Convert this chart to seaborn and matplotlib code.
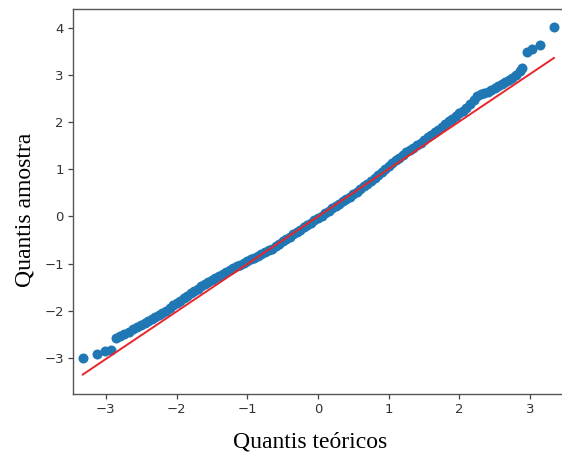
import matplotlib
matplotlib.use("Agg")
import matplotlib.pyplot as plt
import seaborn as sns
import pandas as pd

# Theoretical quantiles (x) and sample quantiles (y)
theoretical = [-3.33, -3.13, -3.01, -2.93, -2.86, -2.80, -2.74, -2.68, -2.62, -2.56,
               -2.50, -2.45, -2.40, -2.35, -2.30, -2.25, -2.20, -2.15, -2.10, -2.05,
               -2.00, -1.95, -1.90, -1.85, -1.80, -1.75, -1.70, -1.65, -1.60, -1.55,
               -1.50, -1.45, -1.40, -1.35, -1.30, -1.25, -1.20, -1.15, -1.10, -1.05,
               -1.00, -0.95, -0.90, -0.85, -0.80, -0.75, -0.70, -0.65, -0.60, -0.55,
               -0.50, -0.45, -0.40, -0.35, -0.30, -0.25, -0.20, -0.15, -0.10, -0.05,
               0.00, 0.05, 0.10, 0.15, 0.20, 0.25, 0.30, 0.35, 0.40, 0.45,
               0.50, 0.55, 0.60, 0.65, 0.70, 0.75, 0.80, 0.85, 0.90, 0.95,
               1.00, 1.05, 1.10, 1.15, 1.20, 1.25, 1.30, 1.35, 1.40, 1.45,
               1.50, 1.55, 1.60, 1.65, 1.70, 1.75, 1.80, 1.85, 1.90, 1.95,
               2.00, 2.05, 2.10, 2.15, 2.20, 2.25, 2.30, 2.35, 2.40, 2.45,
               2.50, 2.55, 2.60, 2.65, 2.70, 2.75, 2.80, 2.85, 2.88, 2.95,
               3.02, 3.14, 3.34]
sample = [-3.00, -2.91, -2.86, -2.83, -2.58, -2.53, -2.49, -2.46, -2.40, -2.35,
          -2.31, -2.27, -2.22, -2.17, -2.13, -2.09, -2.06, -2.01, -1.94, -1.88,
          -1.84, -1.79, -1.74, -1.69, -1.63, -1.58, -1.53, -1.48, -1.43, -1.39,
          -1.35, -1.31, -1.27, -1.22, -1.18, -1.14, -1.10, -1.06, -1.02, -0.99,
          -0.95, -0.91, -0.88, -0.84, -0.80, -0.76, -0.72, -0.68, -0.63, -0.58,
          -0.53, -0.48, -0.43, -0.38, -0.33, -0.28, -0.23, -0.18, -0.13, -0.08,
          -0.03, 0.02, 0.07, 0.12, 0.17, 0.22, 0.27, 0.32, 0.37, 0.42,
          0.48, 0.53, 0.59, 0.64, 0.70, 0.76, 0.82, 0.88, 0.95, 1.01,
          1.07, 1.13, 1.19, 1.25, 1.30, 1.36, 1.41, 1.46, 1.52, 1.57,
          1.63, 1.68, 1.73, 1.79, 1.84, 1.90, 1.96, 2.02, 2.08, 2.13,
          2.19, 2.25, 2.31, 2.38, 2.47, 2.56, 2.60, 2.62, 2.64, 2.68,
          2.73, 2.77, 2.81, 2.85, 2.90, 2.95, 3.01, 3.10, 3.16, 3.49,
          3.56, 3.64, 4.03]

# Reference line endpoints
line_x = [-3.33, 3.34]
line_y = [-3.36, 3.37]

x_ticks = [-3, -2, -1, 0, 1, 2, 3]
y_ticks = [-3, -2, -1, 0, 1, 2, 3, 4]

x_label = "Quantis teóricos"
y_label = "Quantis amostra"

sns.set_theme(style="ticks")
plt.rcParams["font.family"] = ["DejaVu Sans"]

fig = plt.figure(figsize=(5.62, 4.59), dpi=100)
ax = fig.add_axes([73 / 562, 1 - 394 / 459, 490 / 562, (394 - 9.3) / 459])

pts = pd.DataFrame({"x": theoretical, "y": sample})
ln = pd.DataFrame({"x": line_x, "y": line_y})

sns.scatterplot(data=pts, x="x", y="y", ax=ax, color="#1f77b4", s=52,
                linewidth=0, zorder=2)
sns.lineplot(data=ln, x="x", y="y", ax=ax, color="#e8262a", linewidth=1.4,
             sort=False, zorder=3)

ax.set_xlim(-3.465, 3.465)
ax.set_ylim(-3.77, 4.40)
ax.set_xticks(x_ticks)
ax.set_yticks(y_ticks)
ax.set_xticklabels([("\u2212" + str(-t)) if t < 0 else str(t) for t in x_ticks])
ax.set_yticklabels([("\u2212" + str(-t)) if t < 0 else str(t) for t in y_ticks])
ax.set_xlabel("")
ax.set_ylabel("")
ax.tick_params(axis="both", length=3.5, width=0.9, colors="#444444",
               labelsize=9.5, labelcolor="#333333", pad=3)
for s in ax.spines.values():
    s.set_color("#555555")
    s.set_linewidth(1.0)
    s.set_visible(True)

fig.text(310 / 562, 1 - 442 / 459, x_label, ha="center", va="center",
         fontsize=17, family=["Liberation Serif", "DejaVu Serif"], color="black")
fig.text(25 / 562, 1 - 210 / 459, y_label, ha="center", va="center", rotation=90,
         fontsize=17, family=["Liberation Serif", "DejaVu Serif"], color="black")

fig.savefig("out.png", dpi=100)
